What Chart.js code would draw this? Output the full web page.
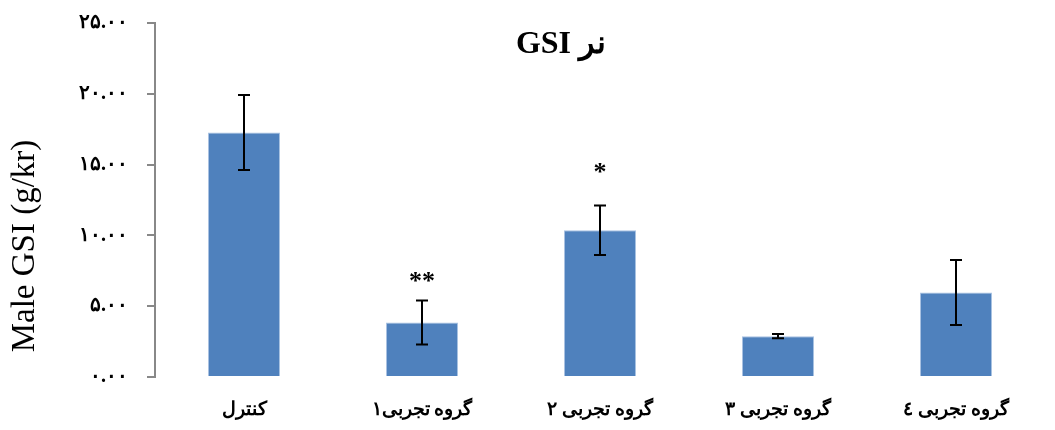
<!DOCTYPE html>
<html>
<head>
<meta charset="utf-8">
<script src="https://cdn.jsdelivr.net/npm/chart.js@4/dist/chart.umd.min.js"></script>
<style>
html,body{margin:0;padding:0;background:#fff;}
#wrap{width:1055px;height:430px;}
</style>
</head>
<body>
<div id="wrap"><canvas id="c" width="1055" height="430"></canvas></div>
<script>
const categories = ['کنترل', 'گروه تجربی۱', 'گروه تجربی ۲', 'گروه تجربی ۳', 'گروه تجربی ٤'];
const gsiValues = [17.26, 3.85, 10.36, 2.88, 5.97];
const gsiErrors = [2.65, 1.56, 1.75, 0.15, 2.3];
const sigLabels = ['', '**', '*', '', ''];
const sigLevels = [null, 6.84, 14.5, null, null];
const yTickLabels = ['۰.۰۰', '۵.۰۰', '۱۰.۰۰', '۱۵.۰۰', '۲۰.۰۰', '۲۵.۰۰'];
const chartTitle = 'GSI نر';
const yTitle = 'Male GSI (g/kr)';

const serif = '"Liberation Serif", "DejaVu Serif", serif';

const errorBarPlugin = {
  id: 'errorBars',
  afterDatasetsDraw(chart) {
    const ctx = chart.ctx;
    const meta = chart.getDatasetMeta(0);
    const y = chart.scales.y;
    ctx.save();
    ctx.strokeStyle = '#000';
    ctx.lineWidth = 2;
    meta.data.forEach((bar, i) => {
      const v = gsiValues[i], e = gsiErrors[i];
      const yt = y.getPixelForValue(v + e);
      const yb = y.getPixelForValue(v - e);
      const x = bar.x;
      const cap = 6;
      ctx.beginPath();
      ctx.moveTo(x, yt); ctx.lineTo(x, yb);
      ctx.moveTo(x - cap, yt); ctx.lineTo(x + cap, yt);
      ctx.moveTo(x - cap, yb); ctx.lineTo(x + cap, yb);
      ctx.stroke();
      if (sigLabels[i] && sigLevels[i] != null) {
        ctx.fillStyle = '#000';
        ctx.font = 'bold 26px ' + serif;
        ctx.textAlign = 'center';
        ctx.textBaseline = 'middle';
        ctx.fillText(sigLabels[i], x, y.getPixelForValue(sigLevels[i]) + 2);
      }
    });
    ctx.restore();
  }
};

const textPlugin = {
  id: 'extraText',
  afterDraw(chart) {
    const ctx = chart.ctx;
    ctx.save();
    ctx.fillStyle = '#000';
    ctx.font = 'bold 32px ' + serif;
    ctx.textAlign = 'center';
    ctx.textBaseline = 'alphabetic';
    ctx.fillText(chartTitle, 561, 53);
    ctx.translate(25, 246);
    ctx.rotate(-Math.PI / 2);
    ctx.font = '33px ' + serif;
    ctx.textBaseline = 'middle';
    ctx.fillText(yTitle, 0, 0);
    ctx.restore();
  }
};

new Chart(document.getElementById('c'), {
  type: 'bar',
  data: {
    labels: categories,
    datasets: [{
      data: gsiValues,
      backgroundColor: '#4F81BD',
      borderColor: '#A9C2E2',
      borderWidth: 1,
      barPercentage: 0.405,
      categoryPercentage: 1.0
    }]
  },
  options: {
    responsive: false,
    animation: false,
    devicePixelRatio: 1,
    layout: { padding: { top: 23, right: 10, left: 0, bottom: 0 } },
    plugins: { legend: { display: false }, tooltip: { enabled: false }, title: { display: false } },
    scales: {
      x: {
        grid: { display: false, drawTicks: false },
        border: { display: false },
        ticks: {
          color: '#000',
          font: { family: serif, size: 19, weight: 'bold' },
          padding: 22,
          maxRotation: 0,
          autoSkip: false
        },
        afterFit(scale) { scale.height = 53; scale.paddingLeft = 0; scale.paddingRight = 0; }
      },
      y: {
        min: 0, max: 25,
        grid: { display: true, drawOnChartArea: false, drawTicks: true, tickLength: 8, color: '#888', lineWidth: 2 },
        border: { display: true, color: '#888', width: 2 },
        ticks: {
          stepSize: 5,
          color: '#000',
          font: { family: serif, size: 20, weight: 'bold' },
          padding: 19,
          callback(value) { return yTickLabels[Math.round(value / 5)]; }
        },
        title: { display: false },
        afterFit(scale) { scale.width = 155; scale.paddingTop = 0; scale.paddingBottom = 0; }
      }
    }
  },
  plugins: [errorBarPlugin, textPlugin]
});
</script>
</body>
</html>
